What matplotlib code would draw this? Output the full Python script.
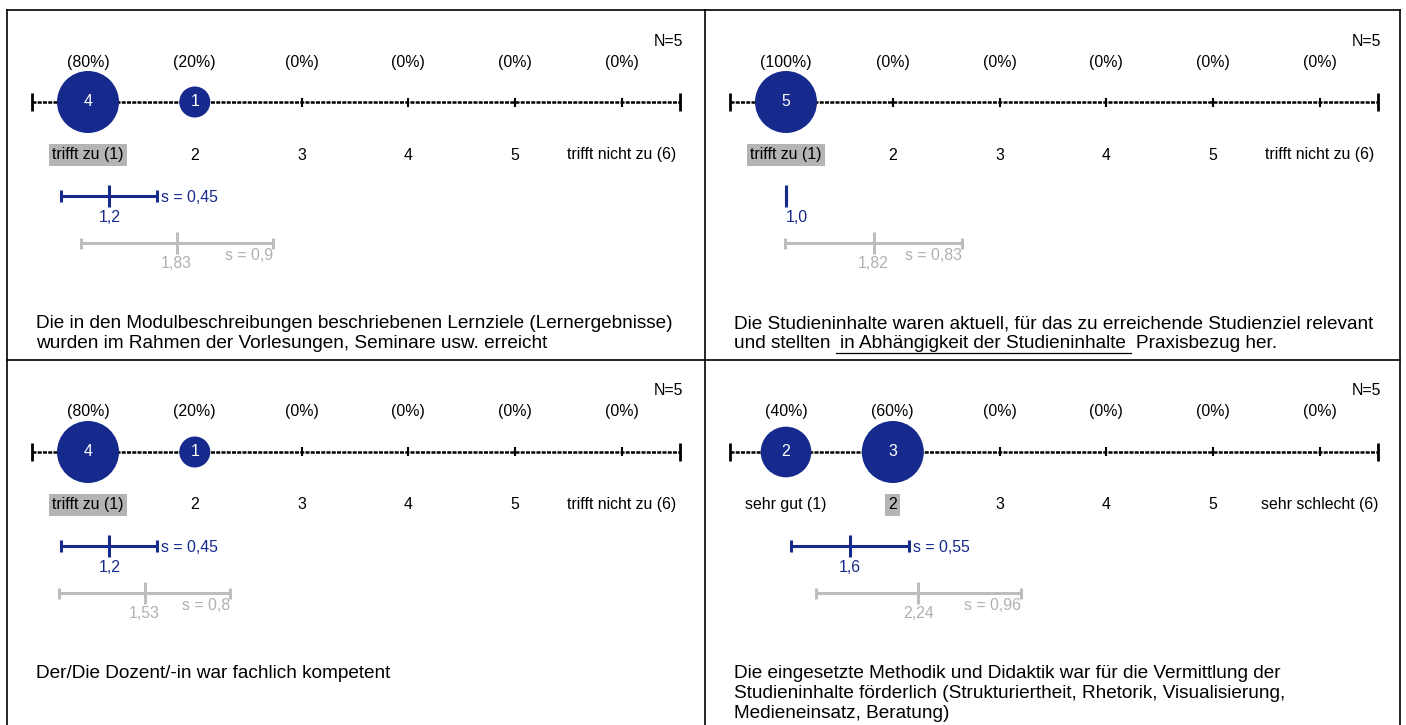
# survey result sheet: four questions on a 1..6 scale

import numpy as np
import matplotlib.pyplot as plt

plt.rcParams['font.family'] = ['Liberation Sans', 'DejaVu Sans']

# answer counts per scale point 1..6
counts_q1 = [4, 1, 0, 0, 0, 0]
counts_q2 = [5, 0, 0, 0, 0, 0]
counts_q3 = [4, 1, 0, 0, 0, 0]
counts_q4 = [2, 3, 0, 0, 0, 0]
all_counts = [counts_q1, counts_q2, counts_q3, counts_q4]

# mean / standard deviation of this course (blue) and of the comparison group (gray)
mean_own = [1.2, 1.0, 1.2, 1.6]
sd_own = [0.45, 0.0, 0.45, 0.55]
mean_ref = [1.83, 1.82, 1.53, 2.24]
sd_ref = [0.9, 0.83, 0.8, 0.96]

labels_agree = ['trifft zu (1)', '2', '3', '4', '5', 'trifft nicht zu (6)']
labels_grade = ['sehr gut (1)', '2', '3', '4', '5', 'sehr schlecht (6)']
scale_labels = [labels_agree, labels_agree, labels_agree, labels_grade]
highlight = [0, 0, 0, 1]

questions = [
    "Die in den Modulbeschreibungen beschriebenen Lernziele (Lernergebnisse)\n"
    "wurden im Rahmen der Vorlesungen, Seminare usw. erreicht",
    "Die Studieninhalte waren aktuell, für das zu erreichende Studienziel relevant\n"
    "und stellten|in Abhängigkeit der Studieninhalte|Praxisbezug her.",
    "Der/Die Dozent/-in war fachlich kompetent",
    "Die eingesetzte Methodik und Didaktik war für die Vermittlung der\n"
    "Studieninhalte förderlich (Strukturiertheit, Rhetorik, Visualisierung,\n"
    "Medieneinsatz, Beratung)",
]

BLUE = '#16298c'
GRAY_LINE = '#bdbdbd'
GRAY_TEXT = '#b0b0b0'
FS = 11.4
FS_Q = 13.7

FIG_W, FIG_H = 1406, 725
fig = plt.figure(figsize=(FIG_W / 100, FIG_H / 100), dpi=100)

# background axes in pixel units for the frame
bg = fig.add_axes([0, 0, 1, 1])
bg.set_xlim(0, FIG_W)
bg.set_ylim(FIG_H, 0)
bg.axis('off')
LEFT, MID, RIGHT, TOP, HMID = 7, 705, 1400, 10, 360
bg.plot([LEFT, RIGHT], [TOP, TOP], color='black', lw=1.2)
bg.plot([LEFT, RIGHT], [HMID, HMID], color='black', lw=1.2)
for xx in (LEFT, MID, RIGHT):
    bg.plot([xx, xx], [TOP, FIG_H], color='black', lw=1.2)

panels = [(LEFT, TOP, MID - LEFT), (MID, TOP, RIGHT - MID),
          (LEFT, HMID, MID - LEFT), (MID, HMID, RIGHT - MID)]
PH = 350
STEP = 106.8   # pixels per scale point
X1 = 81        # pixel offset of scale point 1 from panel edge

Y_N, Y_PCT, Y_AX, Y_LAB = 31, 52, 92, 145
Y_OWN, Y_OWN_T, Y_OWN_S = 186, 208, 188
Y_REF, Y_REF_T, Y_REF_S = 233, 254, 245
Y_Q, Q_LINE = 314, 20

def fmt(v, nd):
    return ('%.*f' % (nd, v)).replace('.', ',')

def fmt_sd(v):
    return ('%.2f' % v).rstrip('0').replace('.', ',')

underlines = []
positions = np.arange(1, 7)

for i, (px, py, pw) in enumerate(panels):
    ax = fig.add_axes([px / FIG_W, 1 - (py + PH) / FIG_H, pw / FIG_W, PH / FIG_H])
    x0 = 1 - X1 / STEP
    ax.set_xlim(x0, x0 + pw / STEP)
    ax.set_ylim(PH, 0)
    ax.axis('off')

    counts = np.array(all_counts[i])
    n = counts.sum()

    ax.text(6.57, Y_N, 'N=%d' % n, ha='right', va='center', fontsize=FS)

    # scale line
    lo, hi = positions[0] - 0.52, positions[-1] + 0.54
    ax.plot([lo, hi], [Y_AX, Y_AX], color='black', lw=1.8, ls=(0, (1.6, 0.5)), zorder=1)
    ax.vlines([lo, hi], Y_AX - 9, Y_AX + 9, color='black', lw=2, zorder=1)
    ax.vlines(positions, Y_AX - 4.5, Y_AX + 4.5, color='black', lw=1.5, zorder=1)

    # bubbles, area proportional to count
    nz = counts > 0
    r = 31 * np.sqrt(counts[nz] / counts.max())
    ax.scatter(positions[nz], np.full(nz.sum(), Y_AX), s=(2 * r * 0.72) ** 2,
               color=BLUE, edgecolors='none', zorder=3)
    for p, c in zip(positions[nz], counts[nz]):
        ax.text(p, Y_AX, str(c), color='white', ha='center', va='center',
                fontsize=FS, zorder=4)

    for p, c, lab in zip(positions, counts, scale_labels[i]):
        ax.text(p, Y_PCT, '(%d%%)' % round(100 * c / n), ha='center', va='center',
                fontsize=FS)
        bbox = None
        if p - 1 == highlight[i]:
            bbox = dict(facecolor='#b4b4b4', edgecolor='none', pad=2.2)
        ax.text(p, Y_LAB, lab, ha='center', va='center', fontsize=FS, bbox=bbox)

    # own mean and sd
    m, s = mean_own[i], sd_own[i]
    ax.hlines(Y_OWN, m - s, m + s, color=BLUE, lw=2.2)
    ax.vlines([m - s, m + s], Y_OWN - 6, Y_OWN + 6, color=BLUE, lw=2.2)
    ax.vlines(m, Y_OWN - 11, Y_OWN + 11, color=BLUE, lw=2.2)
    ax.text(m, Y_OWN_T, fmt(m, 1), color=BLUE, fontsize=FS, va='center',
            ha='center' if s > 0 else 'left')
    if s > 0:
        ax.annotate('s = ' + fmt_sd(s), xy=(m + s, Y_OWN_S), xytext=(4, 0),
                    textcoords='offset pixels', ha='left', va='center',
                    color=BLUE, fontsize=FS)

    # comparison mean and sd
    m, s = mean_ref[i], sd_ref[i]
    ax.hlines(Y_REF, m - s, m + s, color=GRAY_LINE, lw=2.2)
    ax.vlines([m - s, m + s], Y_REF - 5.5, Y_REF + 5.5, color=GRAY_LINE, lw=2.2)
    ax.vlines(m, Y_REF - 11, Y_REF + 11, color=GRAY_LINE, lw=2.2)
    ax.text(m, Y_REF_T, fmt(m, 2), color=GRAY_TEXT, fontsize=FS, ha='center', va='center')
    ax.text(m + s, Y_REF_S, 's = ' + fmt_sd(s), color=GRAY_TEXT, fontsize=FS,
            ha='right', va='center')

    # question text
    qx = x0 + 29 / STEP
    for k, line in enumerate(questions[i].split('\n')):
        yy = Y_Q + k * Q_LINE
        parts = line.split('|')
        t = ax.text(qx, yy, parts[0], ha='left', va='center', fontsize=FS_Q)
        if len(parts) == 3:
            blank = ax.annotate(parts[1], xy=(1, 0.5), xycoords=t, xytext=(10, 0),
                                textcoords='offset pixels', ha='left', va='center',
                                fontsize=FS_Q)
            ax.annotate(parts[2], xy=(1, 0.5), xycoords=blank, xytext=(10, 0),
                        textcoords='offset pixels', ha='left', va='center',
                        fontsize=FS_Q)
            underlines.append((blank, yy + py + 9))

# line under the fill-in phrase
fig.canvas.draw()
for blank, yline in underlines:
    bb = blank.get_window_extent()
    bg.plot([bb.x0 - 5, bb.x1 + 5], [yline, yline], color='black', lw=0.9)

fig.savefig('out.png', dpi=100)
